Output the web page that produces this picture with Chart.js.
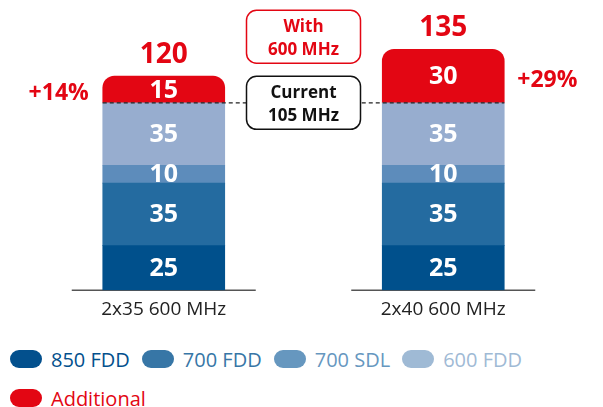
<!DOCTYPE html>
<html>
<head>
<meta charset="utf-8">
<script src="https://cdn.jsdelivr.net/npm/chart.js@4"></script>
<style>
  body { margin: 0; background: #fff; font-family: "Open Sans", sans-serif; }
  #wrap { position: relative; width: 603px; height: 407px; }
  #legend { position: absolute; left: 10px; top: 350px; width: 590px; display: flex; flex-wrap: wrap; column-gap: 12px; row-gap: 21px; }
  .item { display: flex; align-items: center; height: 18px; font-size: 20px; }
  .pill { width: 32px; height: 18px; border-radius: 9px; margin-right: 9px; }
</style>
</head>
<body>
<div id="wrap">
  <canvas id="myChart" width="603" height="335"></canvas>
  <div id="legend"></div>
</div>
<script>
const categories = ['2x35 600 MHz', '2x40 600 MHz'];
const seriesNames = ['850 FDD', '700 FDD', '700 SDL', '600 FDD', 'Additional'];
const fdd850 = [25, 25];
const fdd700 = [35, 35];
const sdl700 = [10, 10];
const fdd600 = [35, 35];
const additional = [15, 30];
const currentMHz = 105;

const barColors = ['#00508c', '#246ba0', '#5d8cbb', '#97adcf', '#e30613'];
const legendColors = ['#03508d', '#3776a6', '#6697bf', '#9fbad5', '#e30613'];
const red = '#e30613';

const values = [fdd850, fdd700, sdl700, fdd600, additional];

function roundRect(ctx, x, y, w, h, r) {
    ctx.beginPath();
    ctx.moveTo(x + r, y);
    ctx.arcTo(x + w, y, x + w, y + h, r);
    ctx.arcTo(x + w, y + h, x, y + h, r);
    ctx.arcTo(x, y + h, x, y, r);
    ctx.arcTo(x, y, x + w, y, r);
    ctx.closePath();
}

const overlay = {
    id: 'overlay',
    beforeDatasetsDraw(chart) {
        const {ctx, scales: {x, y}} = chart;
        // short baseline under each bar
        ctx.save();
        ctx.strokeStyle = '#555';
        ctx.lineWidth = 1.5;
        const y0 = y.getPixelForValue(0);
        categories.forEach((c, i) => {
            const cx = x.getPixelForValue(i);
            ctx.beginPath();
            ctx.moveTo(cx - 92, y0);
            ctx.lineTo(cx + 92, y0);
            ctx.stroke();
        });
        ctx.restore();
    },
    afterDatasetsDraw(chart) {
        const {ctx, scales: {x, y}} = chart;
        ctx.save();
        ctx.textAlign = 'center';
        ctx.textBaseline = 'middle';

        // values inside segments
        ctx.fillStyle = '#fff';
        ctx.font = 'bold 25px "Open Sans"';
        chart.data.datasets.forEach((ds, i) => {
            chart.getDatasetMeta(i).data.forEach((bar, j) => {
                const p = bar.getProps(['x', 'y', 'base'], true);
                ctx.fillText(ds.data[j], p.x, (p.y + p.base) / 2 + 1);
            });
        });

        // dashed "current" line
        const first = chart.getDatasetMeta(0).data[0];
        const last = chart.getDatasetMeta(0).data[categories.length - 1];
        const yc = y.getPixelForValue(currentMHz);
        ctx.strokeStyle = '#222';
        ctx.lineWidth = 1.3;
        ctx.setLineDash([4, 3]);
        ctx.beginPath();
        ctx.moveTo(first.x - first.width / 2, yc);
        ctx.lineTo(last.x + last.width / 2, yc);
        ctx.stroke();
        ctx.setLineDash([]);

        // totals and percentages
        ctx.fillStyle = red;
        categories.forEach((c, j) => {
            const total = values.reduce((s, arr) => s + arr[j], 0);
            const cx = x.getPixelForValue(j);
            ctx.font = 'bold 28px "Open Sans"';
            ctx.textAlign = 'center';
            ctx.fillText(total, cx, y.getPixelForValue(total) - 21);
            const pct = '+' + Math.round(additional[j] / currentMHz * 100) + '%';
            const mid = (y.getPixelForValue(total) + yc) / 2 + 4;
            ctx.font = 'bold 23px "Open Sans"';
            if (j === 0) {
                ctx.textAlign = 'right';
                ctx.fillText(pct, cx - 61 - 14, mid);
            } else {
                ctx.textAlign = 'left';
                ctx.fillText(pct, cx + 61 + 13, mid);
            }
        });

        // callout boxes between the bars
        const bx = (x.getPixelForValue(0) + x.getPixelForValue(1)) / 2;
        const boxes = [
            {lines: ['With', '600 MHz'], color: red, cy: y.getPixelForValue(142)},
            {lines: ['Current', currentMHz + ' MHz'], color: '#111', cy: yc}
        ];
        boxes.forEach(b => {
            roundRect(ctx, bx - 57, b.cy - 26.5, 114, 53, 10);
            ctx.fillStyle = '#fff';
            ctx.fill();
            ctx.strokeStyle = b.color;
            ctx.lineWidth = 1.5;
            ctx.stroke();
            ctx.fillStyle = b.color;
            ctx.font = 'bold 17px "Open Sans"';
            ctx.textAlign = 'center';
            ctx.fillText(b.lines[0], bx, b.cy - 10);
            ctx.fillText(b.lines[1], bx, b.cy + 13);
        });
        ctx.restore();
    }
};

const ctx = document.getElementById('myChart').getContext('2d');
new Chart(ctx, {
    type: 'bar',
    data: {
        labels: categories,
        datasets: seriesNames.map((name, i) => ({
            label: name,
            data: values[i],
            backgroundColor: barColors[i],
            barThickness: 122,
            borderSkipped: false,
            borderRadius: i === 4 ? {topLeft: 12, topRight: 12, bottomLeft: 0, bottomRight: 0} : 0
        }))
    },
    options: {
        responsive: false,
        animation: false,
        layout: {padding: {left: 24, right: 20, top: 10, bottom: 6}},
        plugins: {legend: {display: false}, tooltip: {enabled: false}},
        scales: {
            x: {
                stacked: true,
                grid: {display: false, drawTicks: false},
                border: {display: false},
                ticks: {color: '#222', padding: 8, font: {family: 'Open Sans', size: 19}}
            },
            y: {stacked: true, display: false, min: 0, max: 157}
        }
    },
    plugins: [overlay]
});

const legend = document.getElementById('legend');
seriesNames.forEach((name, i) => {
    const item = document.createElement('div');
    item.className = 'item';
    item.innerHTML = '<span class="pill" style="background:' + legendColors[i] + '"></span>' +
        '<span style="color:' + legendColors[i] + '">' + name + '</span>';
    legend.appendChild(item);
});
</script>
</body>
</html>
